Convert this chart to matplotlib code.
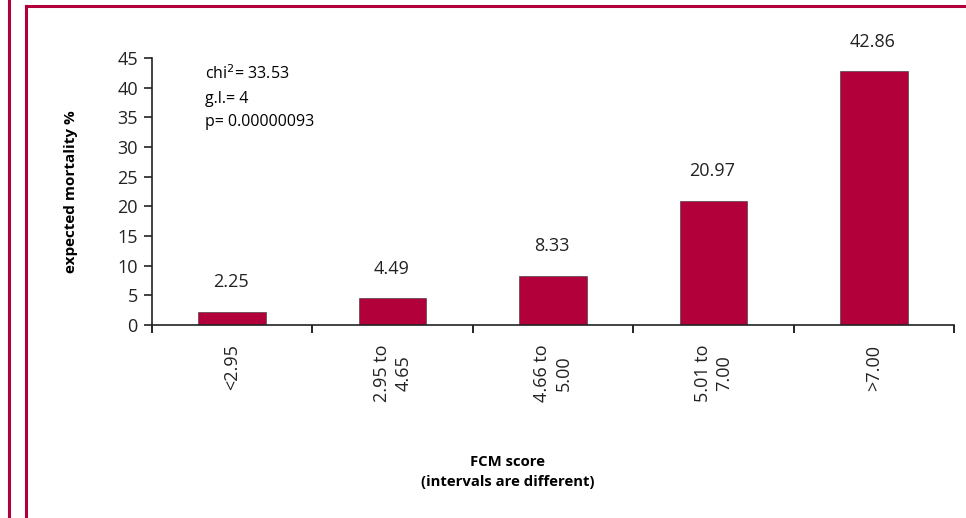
import matplotlib.pyplot as plt
from matplotlib.lines import Line2D

plt.rcParams['font.family'] = ['Open Sans', 'DejaVu Sans']

categories = ['<2.95', '2.95 to\n4.65', '4.66 to\n5.00', '5.01 to\n7.00', '>7.00']
mortality = [2.25, 4.49, 8.33, 20.97, 42.86]
value_labels = ['2.25', '4.49', '8.33', '20.97', '42.86']
y_ticks = [0, 5, 10, 15, 20, 25, 30, 35, 40, 45]

crimson = '#b1003a'

fig = plt.figure(figsize=(9.66, 5.18), dpi=100)
ax = fig.add_axes([0.157, 0.3726, 0.831, 0.5154])

x = list(range(len(categories)))
ax.bar(x, mortality, width=0.42, color=crimson, edgecolor='#333333', linewidth=0.4)

for xi, v, lab in zip(x, mortality, value_labels):
    ax.annotate(lab, (xi, v), xytext=(-1, 21), textcoords='offset points',
                ha='center', va='center', fontsize=13, color='#222222')

ax.set_xlim(-0.5, 4.5)
ax.set_ylim(0, 45)
ax.set_yticks(y_ticks)
ax.tick_params(axis='y', labelsize=13, length=6, width=1.2, colors='#222222', pad=4)

# category boundaries get the tick marks, labels sit at bar centres
ax.set_xticks([i - 0.5 for i in range(len(categories) + 1)])
ax.set_xticklabels([])
ax.tick_params(axis='x', length=6, width=1.2, direction='out')
for xi, cat in zip(x, categories):
    ax.text(xi, -3.3, cat, rotation=90, ha='center', va='top', fontsize=13,
            color='#222222', linespacing=1.25)

for s in ['top', 'right']:
    ax.spines[s].set_visible(False)
for s in ['left', 'bottom']:
    ax.spines[s].set_linewidth(1.2)
    ax.spines[s].set_color('#222222')

ax.set_ylabel('expected mortality %', fontsize=11, fontweight='bold', labelpad=28)

ax.text(0.066, 0.975, 'chi$^2$= 33.53\ng.l.= 4\np= 0.00000093',
        transform=ax.transAxes, ha='left', va='top', fontsize=11.5, linespacing=1.6)

fig.text(508 / 966, 1 - 472 / 518, 'FCM score\n(intervals are different)',
         ha='center', va='center', fontsize=10.7, fontweight='bold', linespacing=1.6)

# page frame lines
fig.add_artist(Line2D([9 / 966, 9 / 966], [0, 1], color=crimson, lw=2.2))
fig.add_artist(Line2D([26 / 966, 26 / 966], [0, 1 - 6 / 518], color=crimson, lw=2.2))
fig.add_artist(Line2D([26 / 966, 1], [1 - 6 / 518, 1 - 6 / 518], color=crimson, lw=2.2))

fig.savefig('out.png', dpi=100)
